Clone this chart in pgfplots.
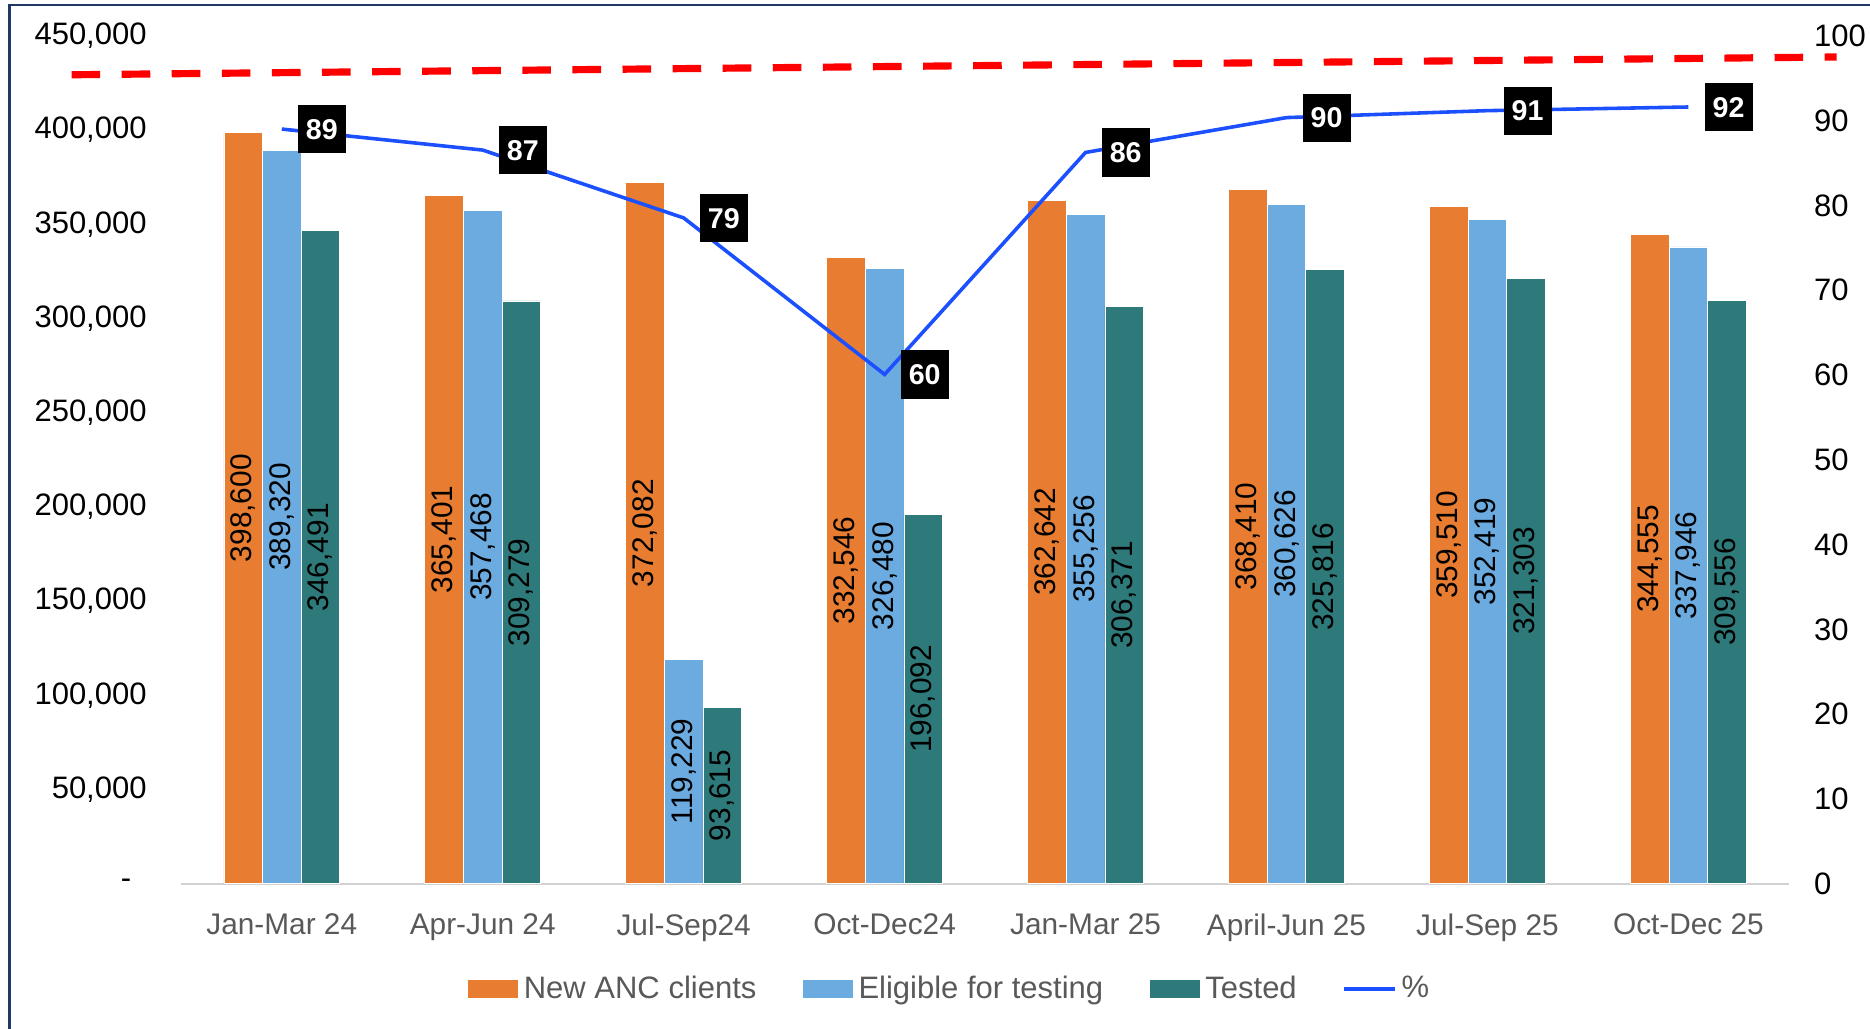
\documentclass[border=0pt]{standalone}
\usepackage{pgfplots}
\pgfplotsset{compat=1.18}
\usepackage{pgfplotstable}
\usepackage{fontspec}
\setmainfont{Liberation Sans}
\definecolor{cOrange}{RGB}{232,125,49}
\definecolor{cBlue}{RGB}{108,171,224}
\definecolor{cTeal}{RGB}{46,121,122}
\definecolor{cLine}{RGB}{28,80,255}
\definecolor{cRed}{RGB}{255,0,0}
\definecolor{cGray}{RGB}{89,89,89}
\definecolor{cFrame}{RGB}{31,56,100}

\pgfplotstableread{
x o e t
0 398600 389320 346491
1 365401 357468 309279
2 372082 119229 93615
3 332546 326480 196092
4 362642 355256 306371
5 368410 360626 325816
6 359510 352419 321303
7 344555 337946 309556
}\anc

\pgfplotstableread{
x p
0 89.00
1 86.52
2 78.52
3 60.06
4 86.24
5 90.35
6 91.17
7 91.60
}\pct

\pgfplotsset{
  barleg/.style={legend image code/.code={\fill[##1] (0pt,-4pt) rectangle (21.5pt,4pt);}},
  lineleg/.style={legend image code/.code={\draw[##1] (0pt,0pt) -- (21.5pt,0pt);}},
  barlab/.style={forget plot, draw=none, mark=none,
    nodes near coords={\pgfmathprintnumber[fixed,precision=0,1000 sep={,},assume math mode=true]{\pgfplotspointmeta}},
    every node near coord/.style={rotate=90, anchor=center, font=\fontsize{12.5}{14}\selectfont, text=black}},
}

\begin{document}
\begin{tikzpicture}
\useasboundingbox (0,0) rectangle (784pt,431pt);
\draw[cFrame, line width=0.9pt] (4pt,-20pt) rectangle (800pt,429pt);

\begin{axis}[
  at={(76pt,60.5pt)}, anchor=south west,
  scale only axis, width=674pt, height=355.5pt,
  xmin=-0.5, xmax=7.5, ymin=0, ymax=450000,
  scaled y ticks=false,
  axis x line*=bottom, axis y line*=left,
  x axis line style={draw=black!18, line width=0.9pt, -},
  y axis line style={draw=none},
  xtick={0,...,7},
  xticklabels={Jan-Mar 24, Apr-Jun 24, Jul-Sep24, Oct-Dec24, Jan-Mar 25, April-Jun 25, Jul-Sep 25, Oct-Dec 25},
  ytick={0,50000,100000,150000,200000,250000,300000,350000,400000,450000},
  yticklabels={{-\rule{6.5pt}{0pt}},{50,000},{100,000},{150,000},{200,000},{250,000},{300,000},{350,000},{400,000},{450,000}},
  major tick length=0pt, tick style={draw=none},
  xticklabel style={font=\fontsize{12.5}{14}\selectfont, text=cGray, yshift=-9pt},
  yticklabel style={font=\fontsize{13}{15}\selectfont, xshift=-11pt},
  clip=false,
  legend style={at={(0.4785,-0.124)}, anchor=center, draw=none, fill=none,
    legend columns=-1, font=\fontsize{13}{15}\selectfont, text=cGray,
    /tikz/every even column/.append style={column sep=17pt}},
]
\addplot[ybar, bar width=0.192, bar shift=-0.192, fill=cOrange, draw=white, line width=0.3pt, barleg] table[x=x,y=o]{\anc};
\addlegendentry{New ANC clients}
\addplot[ybar, bar width=0.192, bar shift=0, fill=cBlue, draw=white, line width=0.3pt, barleg] table[x=x,y=e]{\anc};
\addlegendentry{Eligible for testing}
\addplot[ybar, bar width=0.192, bar shift=0.192, fill=cTeal, draw=white, line width=0.3pt, barleg] table[x=x,y=t]{\anc};
\addlegendentry{Tested}
\addlegendimage{cLine, line width=1.5pt, lineleg}
\addlegendentry{\%}

\addplot[barlab, point meta=\thisrow{o}] table[x expr=\thisrow{x}-0.192, y expr=\thisrow{o}/2]{\anc};
\addplot[barlab, point meta=\thisrow{e}] table[x expr=\thisrow{x}, y expr=\thisrow{e}/2]{\anc};
\addplot[barlab, point meta=\thisrow{t}] table[x expr=\thisrow{x}+0.192, y expr=\thisrow{t}/2]{\anc};
\end{axis}

\begin{axis}[
  at={(76pt,60.5pt)}, anchor=south west,
  scale only axis, width=674pt, height=355.5pt,
  xmin=-0.5, xmax=7.5, ymin=0, ymax=100,
  axis y line*=right, axis x line=none,
  y axis line style={draw=none},
  ytick={0,10,...,100},
  major tick length=0pt, tick style={draw=none},
  yticklabel style={font=\fontsize{13}{15}\selectfont, xshift=7pt},
  /pgf/number format/assume math mode=true,
  clip=false,
]
\addplot[cRed, line width=3pt, dash pattern=on 12pt off 9pt, forget plot] coordinates {(-1.046,95.4) (7.737,97.5)};
\addplot[cLine, line width=1.5pt, mark=none, point meta=y,
  nodes near coords={\pgfmathprintnumber[fixed,precision=0]{\pgfplotspointmeta}},
  every node near coord/.style={fill=black, text=white, font=\bfseries\fontsize{12}{14}\selectfont,
    anchor=west, xshift=6pt, inner xsep=3.4pt, inner ysep=5.8pt, text height=8.6pt, text depth=0pt}]
  table[x=x,y=p]{\pct};
\end{axis}
\end{tikzpicture}
\end{document}
